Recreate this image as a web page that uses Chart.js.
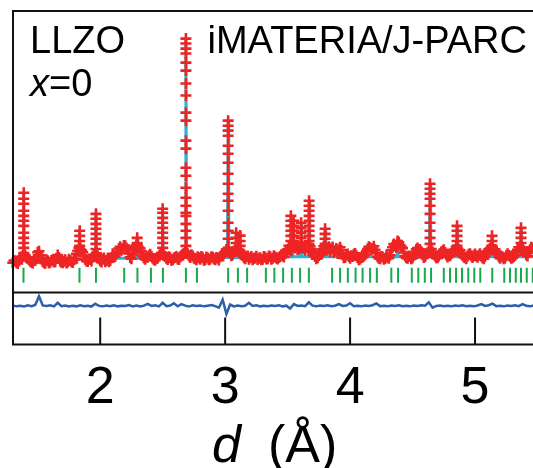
<!DOCTYPE html>
<html>
<head>
<meta charset="utf-8">
<script src="https://cdn.jsdelivr.net/npm/chart.js@4.4.1/dist/chart.umd.min.js"></script>
<style>
  html, body { margin: 0; padding: 0; background: #fff; }
</style>
</head>
<body>
<canvas id="rietveld" width="533" height="468"></canvas>
<script>
// observed background, one point every 0.02 A from 1.30 A
const bgStart = 1.30;
const bgStep = 0.02;
const bgObs = [
  -1.2, -0.4, -1.5, 0.6, 1.8, 2.0, 0.8, -0.5, -1.3, -0.2,
  3.5, 2.2, -0.6, -1.4, -0.3, -1.0, 0.2, -0.8, 2.3, -0.4,
  -1.2, 0.1, -0.9, -0.2, -1.1, 0.5, 4.2, 5.0, 3.6, 0.4,
  -0.6, 0.3, 1.5, 2.4, 1.8, -0.3, 0.4, -0.8, 0.6, -0.2,
  2.8, 1.6, 3.8, 6.0, 5.2, 6.4, 4.6, 1.2, 2.5, 5.8,
  6.5, 5.2, 2.0, 0.4, 1.3, 2.6, 0.8, -0.1, 0.9, 2.4,
  3.0, 1.6, 0.3, 1.0, 0.2, 1.2, 0.5, 1.4, 2.6, 3.4,
  2.8, 1.2, 1.8, 0.6, 1.5, 0.4, 1.1, 0.2, 0.9, 0.5,
  1.3, 0.1, 0.8, 1.5, 2.2, 3.5, 4.4, 3.2, 2.4, 4.6,
  5.0, 4.2, 2.1, 0.6, 1.8, 1.0, 0.2, 0.9, 0.3, 1.1,
  0.4, 1.3, 0.6, 1.5, 0.8, 1.4, 0.5, 1.6, 2.0, 2.8,
  4.8, 5.6, 6.2, 5.4, 4.6, 5.8, 6.0, 4.4, 5.6, 6.2,
  3.8, 1.6, 1.0, 2.6, 4.8, 5.6, 4.9, 3.8, 5.9, 4.2,
  3.0, 5.8, 2.4, 1.2, 2.7, 0.8, 1.6, 3.0, 1.2, 0.5,
  1.3, 2.4, 5.0, 5.6, 5.2, 4.6, 1.5, 0.6, 1.4, 0.7,
  1.3, 2.2, 5.8, 6.6, 7.4, 6.8, 5.4, 1.8, 0.8, 1.6,
  1.0, 3.6, 5.4, 4.8, 2.4, 1.6, 3.2, 4.4, 3.6, 1.8,
  1.0, 2.8, 4.0, 3.4, 1.4, 2.0, 3.6, 4.8, 5.2, 4.4,
  2.2, 1.0, 1.8, 2.8, 1.2, 2.7, 1.3, 2.8, 1.0, 1.6,
  4.0, 5.2, 5.6, 4.8, 2.6, 0.8, 1.4, 0.9, 2.8, 1.6,
  1.0, 2.2, 4.6, 5.4, 5.0, 3.6, 1.8, 4.6, 5.4
];
// the observed points lying in between (from 1.31 A)
const bgObsMid = [
  -0.2, -1.1, -0.3, 1.4, 2.6, 1.2, 0.1, -1.0, 0.4, 1.2,
  4.0, 0.9, -1.2, 0.2, -1.3, -0.2, -0.9, 0.8, 1.2, -1.0,
  -0.5, -1.3, 0.4, -0.8, 0.2, 2.8, 5.6, 4.4, 2.0, -0.4,
  0.5, -0.4, 2.2, 3.0, 0.6, -0.9, 0.9, -0.2, -0.7, 1.0,
  1.8, 2.9, 5.2, 4.4, 6.6, 5.4, 3.0, 0.6, 4.4, 6.8,
  5.6, 4.0, 0.9, 1.4, 2.0, 1.6, 0.2, 0.7, 1.8, 3.2,
  2.2, 0.8, 1.5, -0.1, 0.9, 1.6, 0.3, 2.0, 3.0, 3.8,
  2.0, 2.4, 0.9, 0.2, 1.0, 1.6, -0.1, 1.4, 0.1, 1.5,
  0.6, 1.2, 0.0, 2.0, 3.0, 4.8, 3.6, 2.0, 4.0, 5.4,
  4.6, 3.0, 1.2, 1.5, 0.4, 1.6, 0.8, 1.7, 0.8, 0.2,
  1.6, 0.5, 1.8, 0.4, 2.0, 0.9, 1.2, 2.4, 1.4, 3.8,
  6.4, 4.4, 7.0, 6.6, 5.2, 7.0, 5.2, 6.6, 7.2, 5.0,
  2.4, 0.6, 1.9, 3.8, 6.2, 4.4, 6.0, 5.0, 3.4, 5.2,
  4.6, 4.4, 1.0, 2.2, 1.6, 2.0, 2.6, 2.0, 0.2, 1.2,
  1.8, 4.0, 6.0, 4.6, 6.2, 3.2, 0.8, 1.6, 0.4, 1.8,
  0.8, 4.4, 7.2, 5.8, 8.0, 6.0, 3.4, 1.0, 1.8, 0.6,
  2.2, 4.8, 4.2, 3.6, 1.2, 2.6, 4.0, 5.0, 2.6, 1.0,
  1.8, 3.6, 4.6, 2.4, 2.2, 2.8, 4.4, 6.0, 4.6, 3.2,
  1.4, 0.6, 2.6, 2.0, 2.0, 1.8, 2.2, 1.8, 0.6, 2.8,
  4.8, 6.0, 4.6, 3.8, 1.6, 1.6, 0.6, 2.0, 2.2, 0.8,
  1.6, 3.8, 5.8, 4.6, 4.2, 2.4, 3.4, 5.8
];

// observed points on the peaks (columns of crosses)
const peakD = [1.388, 1.836, 1.966, 2.296, 2.500, 2.686, 3.024, 3.088, 3.120,
  3.526, 3.548, 3.608, 3.672, 3.800, 4.380, 4.640, 4.856, 5.136, 5.368];
const peakObs = [
  [30.3, 27.6, 25.3, 22.2, 19.9, 17.7, 15.4, 12.3, 10.0, 7.7, 5.5, 3.2],
  [13.2, 10.9, 8.6, 6.4, 4.1],
  [20.8, 18.6, 16.3, 14.1, 11.8, 9.6, 7.3, 5.0, 2.8],
  [10.0, 7.7, 5.5],
  [23.1, 21.3, 19.0, 16.8, 14.5, 12.3, 10.0, 7.7, 5.5],
  [99.6, 97.4, 95.1, 92.9, 88.8, 85.2, 79.4, 74.0, 66.3, 62.7, 53.7, 50.1,
   41.5, 37.9, 32.5, 28.0, 24.4, 21.3, 19.9, 16.3, 13.2, 10.0, 6.4],
  [62.7, 60.4, 58.2, 55.9, 51.4, 47.8, 43.8, 38.8, 34.3, 29.8, 26.7, 22.2,
   16.8, 13.2, 9.6, 5.5],
  [12.3, 10.0, 7.7, 5.5],
  [11.0, 8.6, 6.4],
  [19.9, 17.7, 15.4, 13.2, 10.9, 8.6, 6.4, 4.1],
  [17.7, 15.4, 13.2, 10.9, 8.6, 6.4],
  [16.8, 14.5, 12.3, 10.0, 7.7, 5.5],
  [26.7, 24.4, 22.2, 19.9, 17.7, 15.4, 13.2, 10.9, 8.6, 6.4, 4.1],
  [14.1, 11.8, 9.6, 7.3, 5.0],
  [8.6, 6.4],
  [34.3, 32.1, 29.8, 27.6, 24.4, 20.8, 16.8, 13.2, 10.0, 7.3, 4.1],
  [15.4, 13.2, 10.9, 8.6, 6.4, 4.1],
  [10.9, 8.6, 6.4],
  [14.5, 12.3, 10.0, 7.7, 5.5]
];

// calculated profile
const calcD = [1.300, 1.383, 1.388, 1.393, 1.831, 1.836, 1.841, 1.961, 1.966, 1.971,
  2.291, 2.296, 2.301, 2.495, 2.500, 2.505, 2.681, 2.686, 2.691, 3.019, 3.024, 3.029,
  3.099, 3.104, 3.109, 3.531, 3.536, 3.541, 3.603, 3.608, 3.613, 3.667, 3.672, 3.677,
  3.795, 3.800, 3.805, 4.375, 4.380, 4.385, 4.635, 4.640, 4.645, 4.851, 4.856, 4.861,
  5.131, 5.136, 5.141, 5.363, 5.368, 5.373, 5.470];
const calcI = [0.0, 0.5, 30.0, 0.5, 0.5, 12.5, 0.5, 0.8, 20.5, 0.8,
  0.8, 9.5, 0.8, 1.0, 22.8, 1.0, 1.2, 99.5, 1.2, 1.2, 62.5, 1.2,
  1.2, 12.0, 1.2, 1.5, 19.5, 1.5, 1.5, 16.5, 1.5, 1.5, 26.5, 1.5,
  1.5, 14.0, 1.5, 1.5, 8.5, 1.5, 1.5, 34.0, 1.5, 1.5, 15.2, 1.5,
  1.5, 10.8, 1.5, 1.5, 14.4, 1.5, 1.5];

// difference curve (obs - calc, shifted), one point every 0.03 A
const diffStart = 1.30;
const diffStep = 0.03;
const diffI = [
  -20.4, -20.8, -20.5, -20.9, -20.3, -20.7, -20.2, -16.3, -20.4, -20.6,
  -20.3, -20.8, -19.2, -20.7, -20.4, -20.9, -20.5, -20.8, -20.3, -20.7,
  -20.5, -20.9, -19.6, -20.6, -20.8, -20.4, -20.7, -20.3, -20.8, -20.5,
  -20.6, -20.2, -20.8, -20.4, -20.9, -20.5, -19.7, -20.6, -20.3, -20.8,
  -19.2, -20.7, -20.4, -19.4, -20.8, -19.8, -20.5, -20.9, -20.3, -20.6,
  -20.4, -20.8, -20.5, -20.2, -20.7, -21.4, -17.8, -24.2, -20.0, -20.8,
  -20.4, -20.7, -20.5, -19.2, -20.6, -20.3, -20.8, -20.5, -20.7, -20.4,
  -20.6, -20.3, -20.8, -20.5, -21.8, -19.8, -20.6, -20.4, -20.7, -19.0,
  -20.5, -20.8, -20.4, -20.6, -20.3, -20.7, -20.5, -19.8, -20.6, -20.4,
  -19.4, -20.7, -20.5, -20.8, -20.4, -20.6, -20.3, -19.5, -20.7, -20.5,
  -20.8, -20.4, -20.6, -20.3, -20.7, -20.5, -20.8, -20.4, -20.6, -20.3,
  -20.5, -19.0, -21.4, -20.6, -20.4, -20.7, -20.5, -20.8, -20.4, -20.6,
  -20.3, -20.7, -20.5, -20.8, -20.4, -19.8, -20.6, -20.3, -19.6, -20.7,
  -20.5, -20.8, -20.4, -20.6, -20.3, -20.7, -19.8, -20.5, -20.8, -20.4
];

// Bragg reflection positions (A)
const reflD = [1.386, 1.834, 1.966, 2.192, 2.298, 2.406, 2.502, 2.686, 2.774,
  3.024, 3.102, 3.176, 3.326, 3.394, 3.464, 3.534, 3.600, 3.670, 3.856, 3.920,
  3.982, 4.044, 4.100, 4.160, 4.214, 4.330, 4.384, 4.494, 4.546, 4.598, 4.648,
  4.750, 4.800, 4.848, 4.896, 4.946, 4.994, 5.042, 5.138, 5.234, 5.280, 5.326,
  5.368, 5.414, 5.462];

const xTicks = [2, 3, 4, 5];

const reflLevel = -6.8;   // where the green ticks sit
const panelSplit = -14.6; // line between the two panels

const obsPoints = bgObs.map((v, i) => ({ x: bgStart + i * bgStep, y: v }));
bgObsMid.forEach((v, i) => obsPoints.push({ x: bgStart + bgStep / 2 + i * bgStep, y: v }));
peakD.forEach((d, k) => {
  peakObs[k].forEach(v => obsPoints.push({ x: d, y: v }));
});
const calcPoints = calcD.map((d, i) => ({ x: d, y: calcI[i] }));
const diffPoints = diffI.map((v, i) => ({ x: diffStart + i * diffStep, y: v }));
const reflPoints = reflD.map(d => ({ x: d, y: reflLevel }));

const FONT = '"Liberation Sans", Arial, Helvetica, sans-serif';

// frame, inner ticks and the text labels
const framePlugin = {
  id: 'frame',
  afterDatasetsDraw(chart) {
    const { ctx, chartArea: a, scales } = chart;
    const x = scales.x, y = scales.y;
    ctx.save();
    ctx.strokeStyle = '#111';
    ctx.lineWidth = 2;
    ctx.beginPath();
    ctx.moveTo(chart.width, a.top);
    ctx.lineTo(a.left, a.top);
    ctx.lineTo(a.left, a.bottom);
    ctx.lineTo(chart.width, a.bottom);
    const ys = y.getPixelForValue(panelSplit);
    ctx.moveTo(a.left, ys);
    ctx.lineTo(chart.width, ys);
    xTicks.forEach(t => {
      const px = x.getPixelForValue(t);
      ctx.moveTo(px, a.bottom);
      ctx.lineTo(px, a.bottom - 27);
    });
    ctx.stroke();

    ctx.fillStyle = '#000';
    ctx.textBaseline = 'alphabetic';
    ctx.font = '38px ' + FONT;
    ctx.textAlign = 'left';
    ctx.fillText('LLZO', 30, 53);
    ctx.font = 'italic 38px ' + FONT;
    ctx.fillText('x', 30, 96);
    const wx = ctx.measureText('x').width;
    ctx.font = '38px ' + FONT;
    ctx.fillText('=0', 30 + wx, 96);
    ctx.textAlign = 'right';
    ctx.fillText('iMATERIA/J-PARC', 527, 53);

    // axis title
    ctx.textAlign = 'left';
    ctx.font = 'italic 52px ' + FONT;
    ctx.fillText('d', 212, 462);
    ctx.font = '52px ' + FONT;
    ctx.fillText('(\u00C5)', 268, 462);
    ctx.restore();
  }
};

new Chart(document.getElementById('rietveld'), {
  type: 'scatter',
  data: {
    datasets: [
      {
        label: 'obs',
        data: obsPoints,
        pointStyle: 'cross',
        pointRadius: 5.5,
        borderColor: '#ee2424',
        borderWidth: 2.6,
        clip: false,
        order: 1
      },
      {
        label: 'calc',
        data: calcPoints,
        showLine: true,
        borderColor: '#26b6d2',
        borderWidth: 3,
        pointRadius: 0,
        order: 2
      },
      {
        label: 'reflections',
        data: reflPoints,
        pointStyle: 'line',
        rotation: 90,
        pointRadius: 7.5,
        borderColor: '#19a84a',
        borderWidth: 2,
        order: 3
      },
      {
        label: 'diff',
        data: diffPoints,
        showLine: true,
        borderColor: '#2c5eab',
        borderWidth: 2.5,
        pointRadius: 0,
        order: 4
      }
    ]
  },
  options: {
    responsive: false,
    animation: false,
    events: [],
    layout: { autoPadding: false, padding: { left: 13, right: 0, top: 11, bottom: 35 } },
    plugins: { legend: { display: false }, tooltip: { enabled: false } },
    scales: {
      x: {
        type: 'linear',
        min: 1.302,
        max: 5.464,
        afterBuildTicks: scale => { scale.ticks = xTicks.map(v => ({ value: v })); },
        grid: { display: false, drawTicks: false },
        border: { display: false },
        ticks: {
          padding: 13,
          color: '#000',
          font: { family: FONT, size: 52 },
          maxRotation: 0,
          autoSkip: false
        }
      },
      y: {
        display: false,
        min: -38,
        max: 112
      }
    }
  },
  plugins: [framePlugin]
});
</script>
</body>
</html>
